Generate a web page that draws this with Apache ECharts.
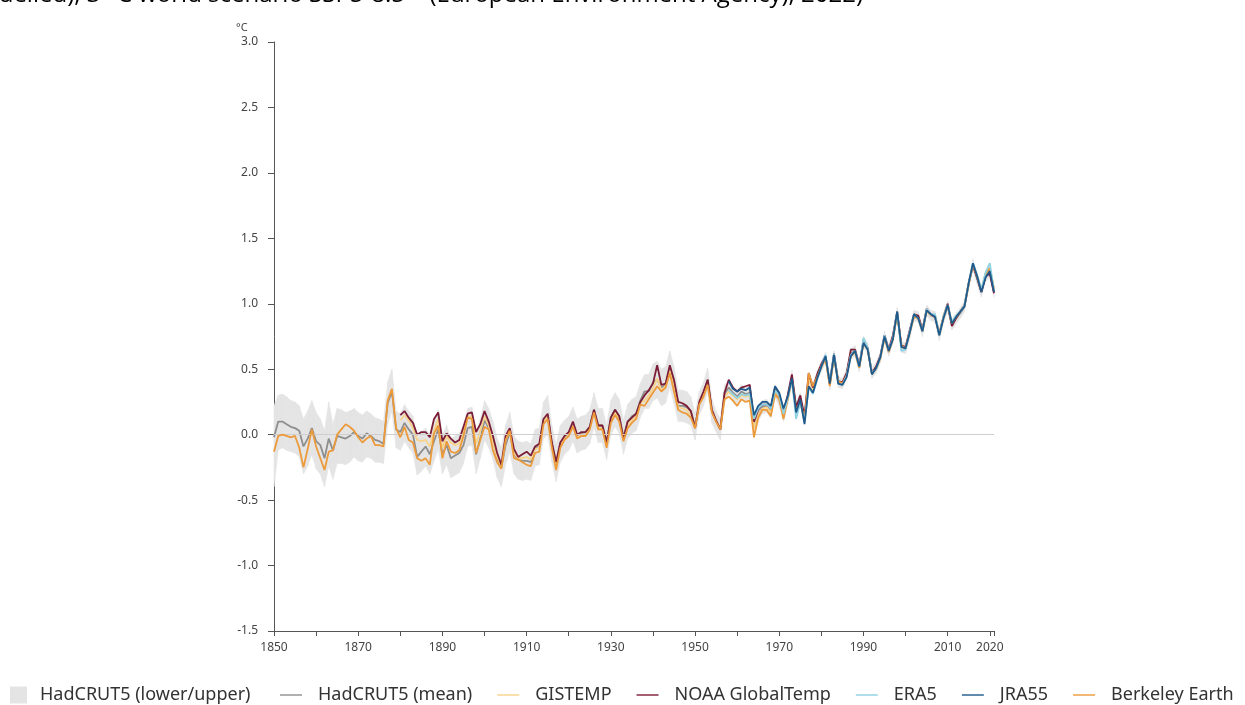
<!DOCTYPE html>
<html>
<head>
<meta charset="utf-8">
<title>Global mean near-surface temperature</title>
<script src="https://cdn.jsdelivr.net/npm/echarts@6.0.0/dist/echarts.min.js"></script>
<style>
  html, body { margin: 0; padding: 0; background: #fff; }
  #chart { width: 1245px; height: 705px; }
</style>
</head>
<body>
<div id="chart"></div>
<script>
// anomalies (°C), one value per year
const hadStart = 1850
const hadMean = [
  -0.02, 0.10, 0.10, 0.08, 0.06, 0.05, 0.03, -0.09, -0.03, 0.05,
  -0.05, -0.08, -0.18, -0.03, -0.12, -0.01, -0.02, -0.03, -0.01, 0.02,
  -0.01, -0.03, 0.01, -0.01, -0.04, -0.05, -0.07, 0.24, 0.33, 0.04,
  0.02, 0.09, 0.04, 0.00, -0.17, -0.13, -0.09, -0.15, -0.05, 0.04,
  -0.15, -0.08, -0.18, -0.16, -0.14, -0.08, 0.05, 0.06, -0.15, -0.03,
  0.11, 0.05, -0.04, -0.18, -0.25, -0.08, 0.02, -0.15, -0.19, -0.20,
  -0.20, -0.21, -0.10, -0.09, 0.11, 0.14, -0.07, -0.22, -0.07, -0.02,
  0.01, 0.08, -0.01, 0.01, 0.02, 0.06, 0.19, 0.07, 0.07, -0.06,
  0.13, 0.19, 0.14, -0.02, 0.10, 0.14, 0.16, 0.26, 0.33, 0.33,
  0.40, 0.42, 0.36, 0.38, 0.50, 0.38, 0.22, 0.22, 0.21, 0.18,
  0.06, 0.24, 0.31, 0.42, 0.18, 0.10, 0.04, 0.31, 0.36, 0.32,
  0.29, 0.33, 0.31, 0.32, 0.06, 0.15, 0.21, 0.22, 0.18, 0.33,
  0.27, 0.15, 0.28, 0.44, 0.20, 0.27, 0.12, 0.44, 0.35, 0.45,
  0.52, 0.59, 0.38, 0.60, 0.40, 0.39, 0.46, 0.62, 0.64, 0.52,
  0.71, 0.66, 0.47, 0.51, 0.59, 0.75, 0.64, 0.74, 0.93, 0.67,
  0.66, 0.78, 0.91, 0.90, 0.79, 0.95, 0.91, 0.90, 0.76, 0.89,
  0.98, 0.84, 0.89, 0.93, 0.98, 1.15, 1.30, 1.19, 1.09, 1.21,
  1.24, 1.09
]
const hadLower = [
  -0.40, -0.12, -0.10, -0.12, -0.13, -0.14, -0.17, -0.30, -0.24, -0.15,
  -0.26, -0.30, -0.40, -0.24, -0.34, -0.22, -0.22, -0.23, -0.21, -0.17,
  -0.20, -0.21, -0.17, -0.18, -0.21, -0.21, -0.22, 0.08, 0.18, -0.10,
  -0.12, -0.05, -0.10, -0.14, -0.31, -0.28, -0.24, -0.30, -0.20, -0.11,
  -0.30, -0.23, -0.33, -0.31, -0.29, -0.22, -0.09, -0.08, -0.30, -0.18,
  -0.04, -0.10, -0.19, -0.33, -0.40, -0.23, -0.13, -0.30, -0.34, -0.35,
  -0.34, -0.35, -0.24, -0.23, -0.03, 0.00, -0.21, -0.36, -0.21, -0.15,
  -0.12, -0.05, -0.14, -0.12, -0.11, -0.07, 0.06, -0.06, -0.06, -0.19,
  0.00, 0.06, 0.01, -0.15, -0.03, 0.01, 0.03, 0.13, 0.20, 0.20,
  0.26, 0.28, 0.22, 0.24, 0.36, 0.24, 0.10, 0.10, 0.09, 0.07,
  -0.04, 0.15, 0.22, 0.33, 0.09, 0.02, -0.04, 0.24, 0.31, 0.27,
  0.24, 0.28, 0.26, 0.27, 0.01, 0.10, 0.16, 0.17, 0.13, 0.28,
  0.22, 0.10, 0.23, 0.39, 0.15, 0.22, 0.08, 0.40, 0.31, 0.41,
  0.48, 0.55, 0.34, 0.56, 0.36, 0.35, 0.42, 0.58, 0.60, 0.48,
  0.67, 0.62, 0.43, 0.47, 0.55, 0.71, 0.60, 0.70, 0.89, 0.63,
  0.62, 0.74, 0.87, 0.86, 0.75, 0.91, 0.87, 0.86, 0.72, 0.85,
  0.94, 0.80, 0.85, 0.89, 0.94, 1.11, 1.26, 1.15, 1.05, 1.17,
  1.20, 1.05
]
const hadUpper = [
  0.22, 0.30, 0.31, 0.29, 0.26, 0.25, 0.22, 0.12, 0.18, 0.26,
  0.17, 0.12, 0.03, 0.25, 0.08, 0.20, 0.19, 0.17, 0.18, 0.20,
  0.17, 0.15, 0.18, 0.16, 0.13, 0.12, 0.10, 0.40, 0.50, 0.18,
  0.16, 0.23, 0.18, 0.14, -0.03, 0.02, 0.05, 0.00, 0.10, 0.19,
  0.00, 0.07, -0.03, -0.01, 0.01, 0.07, 0.20, 0.21, 0.00, 0.12,
  0.26, 0.20, 0.10, -0.03, -0.10, 0.07, 0.17, -0.01, -0.05, -0.06,
  -0.05, -0.07, 0.04, 0.05, 0.25, 0.30, 0.07, -0.08, 0.07, 0.11,
  0.14, 0.21, 0.12, 0.14, 0.15, 0.19, 0.32, 0.20, 0.20, 0.07,
  0.26, 0.32, 0.27, 0.11, 0.23, 0.27, 0.29, 0.39, 0.46, 0.46,
  0.54, 0.56, 0.50, 0.52, 0.64, 0.52, 0.34, 0.34, 0.33, 0.29,
  0.16, 0.33, 0.40, 0.51, 0.27, 0.18, 0.12, 0.38, 0.41, 0.37,
  0.34, 0.38, 0.36, 0.37, 0.11, 0.20, 0.26, 0.27, 0.23, 0.38,
  0.32, 0.20, 0.33, 0.49, 0.25, 0.32, 0.16, 0.48, 0.39, 0.49,
  0.56, 0.63, 0.42, 0.64, 0.44, 0.43, 0.50, 0.66, 0.68, 0.56,
  0.75, 0.70, 0.51, 0.55, 0.63, 0.79, 0.68, 0.78, 0.97, 0.71,
  0.70, 0.82, 0.95, 0.94, 0.83, 0.99, 0.95, 0.94, 0.80, 0.93,
  1.02, 0.88, 0.93, 0.97, 1.02, 1.19, 1.34, 1.23, 1.13, 1.25,
  1.28, 1.13
]
const berkeley = [
  -0.13, -0.01, 0.00, -0.01, -0.02, -0.01, -0.10, -0.25, -0.11, 0.04,
  -0.09, -0.18, -0.27, -0.13, -0.12, 0.00, 0.04, 0.08, 0.06, 0.03,
  -0.02, -0.06, -0.03, -0.01, -0.08, -0.08, -0.09, 0.26, 0.35, 0.05,
  -0.02, 0.06, -0.04, -0.06, -0.18, -0.20, -0.18, -0.23, 0.01, 0.07,
  -0.18, -0.05, -0.13, -0.14, -0.12, -0.01, 0.13, 0.12, -0.14, -0.04,
  0.06, 0.04, -0.12, -0.21, -0.26, -0.04, 0.03, -0.18, -0.19, -0.21,
  -0.23, -0.24, -0.14, -0.13, 0.08, 0.12, -0.10, -0.27, -0.10, -0.04,
  -0.01, 0.06, -0.03, -0.01, -0.01, 0.04, 0.17, 0.04, 0.04, -0.10,
  0.09, 0.15, 0.10, -0.05, 0.05, 0.09, 0.12, 0.23, 0.22, 0.27,
  0.32, 0.37, 0.33, 0.36, 0.47, 0.33, 0.19, 0.17, 0.16, 0.13,
  0.05, 0.23, 0.29, 0.38, 0.17, 0.10, 0.04, 0.27, 0.29, 0.26,
  0.22, 0.27, 0.25, 0.26, -0.02, 0.13, 0.19, 0.19, 0.14, 0.31,
  0.27, 0.12, 0.27, 0.41, 0.18, 0.25, 0.11, 0.47, 0.37, 0.44,
  0.52, 0.58, 0.37, 0.59, 0.41, 0.39, 0.45, 0.60, 0.63, 0.51,
  0.70, 0.65, 0.47, 0.50, 0.58, 0.74, 0.63, 0.73, 0.92, 0.68,
  0.66, 0.78, 0.90, 0.89, 0.79, 0.95, 0.92, 0.91, 0.77, 0.90,
  0.99, 0.85, 0.90, 0.94, 0.99, 1.15, 1.30, 1.21, 1.10, 1.23,
  1.27, 1.11
]

const noaaStart = 1880
const noaa = [
  0.15, 0.18, 0.13, 0.09, 0.00, 0.02, 0.02, -0.02, 0.12, 0.17,
  -0.05, 0.01, -0.03, -0.06, -0.04, 0.06, 0.16, 0.17, 0.02, 0.08,
  0.18, 0.10, -0.01, -0.14, -0.23, -0.01, 0.05, -0.11, -0.17, -0.15,
  -0.13, -0.16, -0.09, -0.07, 0.12, 0.16, -0.06, -0.21, -0.06, -0.01,
  0.02, 0.10, 0.00, 0.02, 0.02, 0.06, 0.19, 0.07, 0.07, -0.06,
  0.13, 0.19, 0.14, -0.03, 0.10, 0.13, 0.16, 0.25, 0.30, 0.34,
  0.39, 0.53, 0.38, 0.39, 0.53, 0.42, 0.25, 0.24, 0.22, 0.18,
  0.05, 0.25, 0.33, 0.42, 0.19, 0.11, 0.04, 0.32, 0.42, 0.36,
  0.33, 0.36, 0.37, 0.38, 0.10, 0.19, 0.23, 0.23, 0.20, 0.36,
  0.30, 0.17, 0.30, 0.46, 0.21, 0.30, 0.14, 0.47, 0.36, 0.46,
  0.54, 0.60, 0.40, 0.62, 0.41, 0.40, 0.47, 0.65, 0.65, 0.53,
  0.72, 0.66, 0.47, 0.52, 0.60, 0.76, 0.65, 0.76, 0.94, 0.68,
  0.67, 0.80, 0.92, 0.91, 0.80, 0.96, 0.92, 0.90, 0.77, 0.90,
  1.00, 0.83, 0.89, 0.94, 0.99, 1.16, 1.29, 1.20, 1.09, 1.21,
  1.23, 1.08
]
const gistemp = [
  0.11, 0.15, 0.11, 0.05, -0.04, -0.05, -0.04, -0.09, 0.03, 0.12,
  -0.10, -0.01, -0.06, -0.08, -0.07, 0.03, 0.14, 0.14, -0.07, 0.03,
  0.14, 0.07, -0.06, -0.17, -0.24, -0.04, 0.03, -0.14, -0.18, -0.18,
  -0.17, -0.19, -0.11, -0.10, 0.10, 0.14, -0.08, -0.23, -0.08, -0.02,
  0.01, 0.08, -0.02, 0.00, 0.00, 0.05, 0.18, 0.05, 0.05, -0.08,
  0.11, 0.17, 0.12, -0.04, 0.08, 0.11, 0.14, 0.24, 0.26, 0.30,
  0.35, 0.43, 0.34, 0.37, 0.49, 0.36, 0.21, 0.20, 0.19, 0.15,
  0.05, 0.24, 0.31, 0.40, 0.18, 0.10, 0.04, 0.29, 0.33, 0.30,
  0.27, 0.30, 0.29, 0.30, 0.05, 0.15, 0.20, 0.21, 0.17, 0.32,
  0.27, 0.14, 0.27, 0.43, 0.20, 0.27, 0.11, 0.43, 0.34, 0.44,
  0.51, 0.58, 0.38, 0.60, 0.40, 0.39, 0.46, 0.61, 0.63, 0.52,
  0.71, 0.65, 0.46, 0.51, 0.59, 0.75, 0.64, 0.74, 0.92, 0.67,
  0.66, 0.78, 0.91, 0.89, 0.79, 0.95, 0.91, 0.91, 0.76, 0.89,
  0.99, 0.85, 0.90, 0.94, 0.99, 1.16, 1.30, 1.21, 1.10, 1.23,
  1.28, 1.11
]

const reanStart = 1958
const era5 = [
  0.34, 0.31,
  0.28, 0.31, 0.30, 0.31, 0.12, 0.20, 0.23, 0.23, 0.20, 0.34,
  0.30, 0.16, 0.28, 0.42, 0.12, 0.25, 0.10, 0.36, 0.31, 0.42,
  0.52, 0.61, 0.40, 0.62, 0.39, 0.38, 0.45, 0.61, 0.64, 0.52,
  0.74, 0.66, 0.47, 0.50, 0.59, 0.76, 0.64, 0.74, 0.94, 0.64,
  0.65, 0.79, 0.92, 0.89, 0.79, 0.96, 0.92, 0.92, 0.76, 0.90,
  0.99, 0.86, 0.91, 0.94, 0.99, 1.16, 1.31, 1.22, 1.11, 1.24,
  1.31, 1.10
]
const jra55 = [
  0.41, 0.35,
  0.33, 0.35, 0.34, 0.36, 0.15, 0.22, 0.25, 0.25, 0.22, 0.37,
  0.32, 0.20, 0.29, 0.43, 0.17, 0.27, 0.08, 0.37, 0.32, 0.43,
  0.52, 0.60, 0.39, 0.61, 0.39, 0.38, 0.44, 0.60, 0.64, 0.52,
  0.70, 0.65, 0.46, 0.51, 0.59, 0.75, 0.64, 0.73, 0.94, 0.67,
  0.66, 0.78, 0.92, 0.89, 0.79, 0.95, 0.92, 0.90, 0.76, 0.89,
  0.99, 0.85, 0.90, 0.94, 0.98, 1.16, 1.31, 1.21, 1.09, 1.20,
  1.25, 1.09
]

const xLabels = [1850, 1870, 1890, 1910, 1930, 1950, 1970, 1990, 2010, 2020]

// [year, value] pairs for the value axis
function pairs(start, arr) {
  return arr.map((v, i) => [start + i, v])
}

// band pieces: [year, lo, hi, nextYear, nextLo, nextHi]
const bandData = hadLower.slice(0, -1).map((lo, i) => [
  hadStart + i, lo, hadUpper[i], hadStart + i + 1, hadLower[i + 1], hadUpper[i + 1]
])

const fontFamily = '"Noto Sans", "Open Sans", sans-serif'
const bandColor = '#e4e4e4'

function lineSeries(name, color, start, arr, z) {
  return {
    name: name,
    type: 'line',
    color: color,
    data: pairs(start, arr),
    symbol: 'none',
    z: z,
    lineStyle: { width: 1.8, color: color },
    emphasis: { disabled: true },
    silent: true
  }
}

const chart = echarts.init(document.getElementById('chart'))

const hadSeries = lineSeries('HadCRUT5 (mean)', '#8e8e8e', hadStart, hadMean, 2)
// light zero line across the plot
hadSeries.markLine = {
  silent: true,
  symbol: ['none', 'none'],
  label: { show: false },
  lineStyle: { color: '#cfcfcf', width: 1, type: 'solid' },
  data: [{ yAxis: 0 }]
}

const option = {
  animation: false,
  textStyle: { fontFamily: fontFamily },
  // caption line that is cut off at the top of the image
  title: {
    text: 'modelled), 3 °C world scenario SSP5-8.5 – (European Environment Agency), 2022)',
    right: 382,
    top: -17,
    padding: 0,
    textStyle: {
      fontFamily: '"Open Sans", sans-serif',
      fontSize: 24,
      fontWeight: 'normal',
      color: '#000'
    }
  },
  grid: { left: 274, right: 251, top: 42, bottom: 74 },
  xAxis: {
    type: 'value',
    min: 1850,
    max: 2021,
    interval: 10,
    axisLine: { onZero: false, lineStyle: { color: '#555', width: 1 } },
    axisTick: { length: 5, lineStyle: { color: '#555' } },
    axisLabel: {
      margin: 11,
      fontSize: 12,
      color: '#444',
      formatter: v => (xLabels.indexOf(v) >= 0 ? String(v) : '')
    },
    splitLine: { show: false }
  },
  yAxis: {
    type: 'value',
    min: -1.5,
    max: 3,
    interval: 0.5,
    axisLine: { show: true, lineStyle: { color: '#555', width: 1 } },
    axisTick: { show: true, length: 6, lineStyle: { color: '#555' } },
    axisLabel: {
      margin: 16,
      fontSize: 12,
      color: '#444',
      formatter: v => v.toFixed(1)
    },
    splitLine: { show: false }
  },
  legend: [
    {
      data: [{ name: 'HadCRUT5 (lower/upper)', icon: 'rect' }],
      left: 10,
      top: 686,
      padding: 0,
      itemWidth: 17,
      itemHeight: 17,
      selectedMode: false,
      textStyle: { fontSize: 18, color: '#333', padding: [0, 0, 0, 8] }
    },
    {
      data: ['HadCRUT5 (mean)', 'GISTEMP', 'NOAA GlobalTemp', 'ERA5', 'JRA55', 'Berkeley Earth']
        .map(n => ({ name: n, icon: 'rect' })),
      left: 280,
      top: 686,
      padding: 0,
      itemWidth: 22,
      itemHeight: 2,
      itemGap: 25,
      selectedMode: false,
      itemStyle: { opacity: 0.7 },
      textStyle: { fontSize: 18, color: '#333', padding: [0, 0, 0, 11] }
    }
  ],
  graphic: [
    {
      type: 'text',
      left: 236,
      top: 22,
      style: { text: '°C', font: '11px "Noto Sans", sans-serif', fill: '#444' }
    }
  ],
  series: [
    // HadCRUT5 uncertainty band drawn piece by piece between lower and upper
    {
      name: 'HadCRUT5 (lower/upper)',
      type: 'custom',
      data: bandData,
      encode: { x: [0, 3], y: [1, 2, 4, 5] },
      itemStyle: { color: bandColor },
      silent: true,
      z: 1,
      renderItem: (params, api) => {
        const a = api.coord([api.value(0), api.value(2)])
        const b = api.coord([api.value(3), api.value(5)])
        const c = api.coord([api.value(3), api.value(4)])
        const d = api.coord([api.value(0), api.value(1)])
        return {
          type: 'polygon',
          shape: { points: [a, b, c, d] },
          style: { fill: bandColor, stroke: bandColor, lineWidth: 0.6 }
        }
      }
    },
    hadSeries,
    lineSeries('GISTEMP', '#f8d38a', noaaStart, gistemp, 3),
    lineSeries('NOAA GlobalTemp', '#7c1d38', noaaStart, noaa, 4),
    lineSeries('Berkeley Earth', '#ec9a3a', hadStart, berkeley, 5),
    lineSeries('ERA5', '#8fd2e2', reanStart, era5, 6),
    lineSeries('JRA55', '#1e5a8c', reanStart, jra55, 7)
  ]
}

chart.setOption(option)
</script>
</body>
</html>
